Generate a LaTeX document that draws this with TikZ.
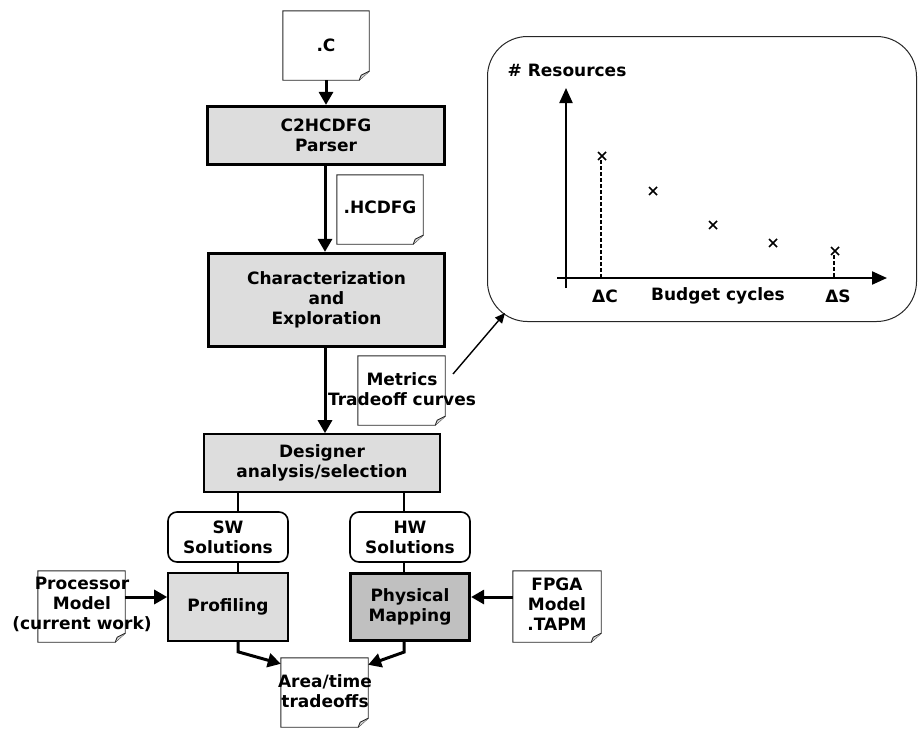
\documentclass[tikz,border=0pt]{standalone}
\usepackage{fontspec}
\setmainfont{DejaVu Sans}
\usetikzlibrary{arrows.meta}
\definecolor{boxgray}{HTML}{DDDDDD}
\definecolor{darkgray}{HTML}{C0C0C0}
\definecolor{foldgray}{HTML}{D8D8D8}
\newcommand\docshape[5]{%
  \node[docframe, minimum width=#4pt, minimum height=#5pt] (#1) at (#2,#3) {};
  \draw[docline] (#1.north west) -- (#1.north east) -- ([yshift=9pt]#1.south east)
     -- ([xshift=-10pt]#1.south east) -- (#1.south west) -- cycle;
  \draw[docline, fill=foldgray] ([yshift=9pt]#1.south east) -- ([xshift=-8pt,yshift=5pt]#1.south east)
     -- ([xshift=-10pt]#1.south east);
}
\begin{document}
\begin{tikzpicture}[x=1pt,y=-1pt,
  font=\fontsize{17}{20}\selectfont\bfseries,
  box/.style={draw=black, fill=boxgray, align=center, inner sep=0, line width=1.6pt},
  thickbox/.style={box, line width=3.2pt},
  solbox/.style={draw=black, fill=white, rounded corners=9pt, align=center, inner sep=0, line width=1.6pt},
  docframe/.style={inner sep=0, draw=none},
  docline/.style={draw=black!85, line width=0.9pt},
  txt/.style={align=center, inner sep=0},
  flow/.style={line width=3pt, -{Triangle[length=13pt,width=14pt]}},
  link/.style={line width=2.8pt},
  thinarrow/.style={line width=1.4pt, -{Triangle[length=10pt,width=9pt]}},
  axis/.style={line width=2.2pt, -{Triangle[length=15pt,width=13pt]}},
  cross/.style={line width=1.6pt},
  drop/.style={line width=1.5pt, dash pattern=on 4pt off 2pt}]
\useasboundingbox (0,0) rectangle (918,728);

% documents
\docshape{docC}{326}{45.5}{86}{69}
\node[txt] (tC) at (docC.center) {.C};
\docshape{docH}{380}{209.5}{86}{69}
\node[txt] (tH) at ([yshift=2pt]docH.center) {.HCDFG};
\docshape{docM}{401.5}{390.5}{87}{69}
\node[txt] (tM) at (402,389) {Metrics\\Tradeoff curves};
\docshape{docP}{81.5}{606.5}{87}{71}
\node[txt] (tP) at (82,604) {Processor\\Model\\(current work)};
\docshape{docF}{557}{606.5}{88}{71}
\node[txt] (tF) at (557,604) {FPGA\\Model\\.TAPM};
\docshape{docA}{324.5}{692.5}{87}{69}
\node[txt] (tA) at (325,691.5) {Area/time\\tradeoffs};

% process boxes
\node[thickbox, minimum width=237pt, minimum height=58pt] (parser) at (326,135.5) {C2HCDFG\\Parser};
\node[thickbox, minimum width=236pt, minimum height=93pt] (char) at (326.5,300) {Characterization\\and\\Exploration};
\node[box, minimum width=236pt, minimum height=58pt] (designer) at (322,463) {Designer\\analysis/selection};
\node[solbox, minimum width=120pt, minimum height=50pt] (sw) at (228,537) {SW\\Solutions};
\node[solbox, minimum width=120pt, minimum height=50pt] (hw) at (410,537) {HW\\Solutions};
\node[box, minimum width=120pt, minimum height=68pt] (prof) at (228,607) {Profiling};
\node[thickbox, fill=darkgray, minimum width=119pt, minimum height=67pt] (phys) at (410,607) {Physical\\Mapping};

% chart
\node[draw=black!85, line width=1pt, rounded corners=40pt, minimum width=429pt, minimum height=285pt, inner sep=0] (chart) at (702,179) {};
\coordinate (ybot) at (566,288);
\coordinate (ytop) at (566,88);
\coordinate (xl) at (557,278);
\coordinate (xr) at (887,278);
\draw[axis] (ybot) -- (ytop);
\draw[axis] (xl) -- (xr);
\foreach \px/\py in {602/156, 653/191, 713/225, 773/243, 835/251}
  \draw[cross] (\px,\py) +(-4,-4) -- +(4,4) +(-4,4) -- +(4,-4);
\draw[drop] (601,160) -- (601,278);
\draw[drop] (834,255) -- (834,278);
\node[txt] (lres) at (567,70) {\# Resources};
\node[txt] (ldc) at (605,296) {ΔC};
\node[txt] (lbud) at (718,296) {Budget cycles};
\node[txt] (lds) at (838,296) {ΔS};

% connectors
\coordinate (fx) at (325,0);
\coordinate (swx) at (238,0);
\coordinate (hwx) at (404,0);
\coordinate (ay) at (0,597);
\draw[flow] (docC) -- (parser);
\draw[flow] (parser.south -| fx) -- (char.north -| fx);
\draw[flow] (char.south -| fx) -- (designer.north -| fx);
\draw[link] (designer.south -| swx) -- (sw.north -| swx);
\draw[link] (sw.south -| swx) -- (prof.north -| swx);
\draw[link] (designer.south -| hwx) -- (hw.north -| hwx);
\draw[link] (hw.south -| hwx) -- (phys.north -| hwx);
\draw[flow] (docP.east |- ay) -- (prof.west |- ay);
\draw[flow] (docF.west |- ay) -- (phys.east |- ay);
\draw[flow] (prof.south -| swx) -- ++(0,10) -- ([yshift=-6pt]docA.north west);
\draw[flow] (phys.south -| hwx) -- ++(0,10) -- ([yshift=-7pt]docA.north east);
\coordinate (ms) at (453,374);
\coordinate (mt) at (505,313);
\draw[thinarrow] (ms) -- (mt);
\end{tikzpicture}
\end{document}
